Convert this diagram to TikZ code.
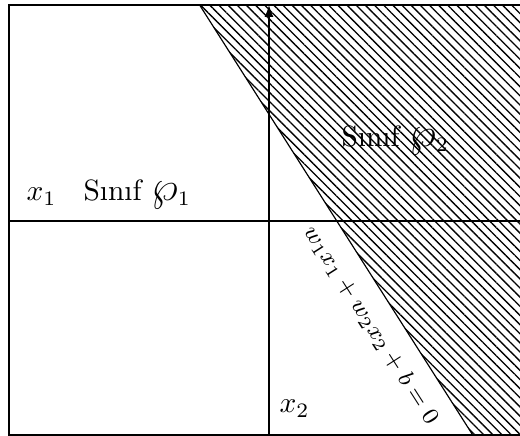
\documentclass[tikz,border=0pt]{standalone}
\usetikzlibrary{patterns.meta,arrows.meta}
\newcommand{\bigwp}[1]{{\Large$\wp$}\raisebox{-1.6pt}{$\scriptstyle #1$}}
\begin{document}
\begin{tikzpicture}[x=0.34pt,y=-0.34pt,
  frame/.style={line width=0.6pt},
  axis/.style={line width=0.4pt},
  lbl/.style={inner sep=0pt,anchor=base west},
  hatch/.style={pattern={Lines[angle=135,distance=2.2pt,line width=0.45pt]}}]
\useasboundingbox (0,0) rectangle (520,436);
% hatched half plane
\fill[hatch] (199.6,5) -- (522,5) -- (522,437) -- (474,437) -- cycle;
\coordinate (ptop) at (199.6,5);
\coordinate (pbot) at (474,437);
\draw[axis] (ptop) -- (pbot);
% frame
\coordinate (tl) at (9,5);
\coordinate (tr) at (522,5);
\coordinate (bl) at (9,435);
\coordinate (br) at (522,435);
\draw[frame] (tr) -- (tl) -- (bl) -- (br);
% axes
\coordinate (hl) at (9,221);
\coordinate (hr) at (522,221);
\coordinate (vb) at (269,435);
\coordinate (vt) at (269,5);
\draw[axis] (hl) -- (hr);
\draw[axis,-{Latex[length=4pt,width=3pt]}] (vb) -- (vt);
% labels
\node[lbl] (x1) at (26,201) {$x_1$};
\node[lbl] (c1) at (83,201) {S\i n\i f \bigwp{1}};
\node[lbl] (c2) at (341,147) {S\i n\i f \bigwp{2}};
\node[lbl] (x2) at (279,413) {$x_2$};
\node[inner sep=0pt,rotate=-57.4,font=\footnotesize] (eq) at (371,325) {$w_1x_1+w_2x_2+b=0$};
\end{tikzpicture}
\end{document}
